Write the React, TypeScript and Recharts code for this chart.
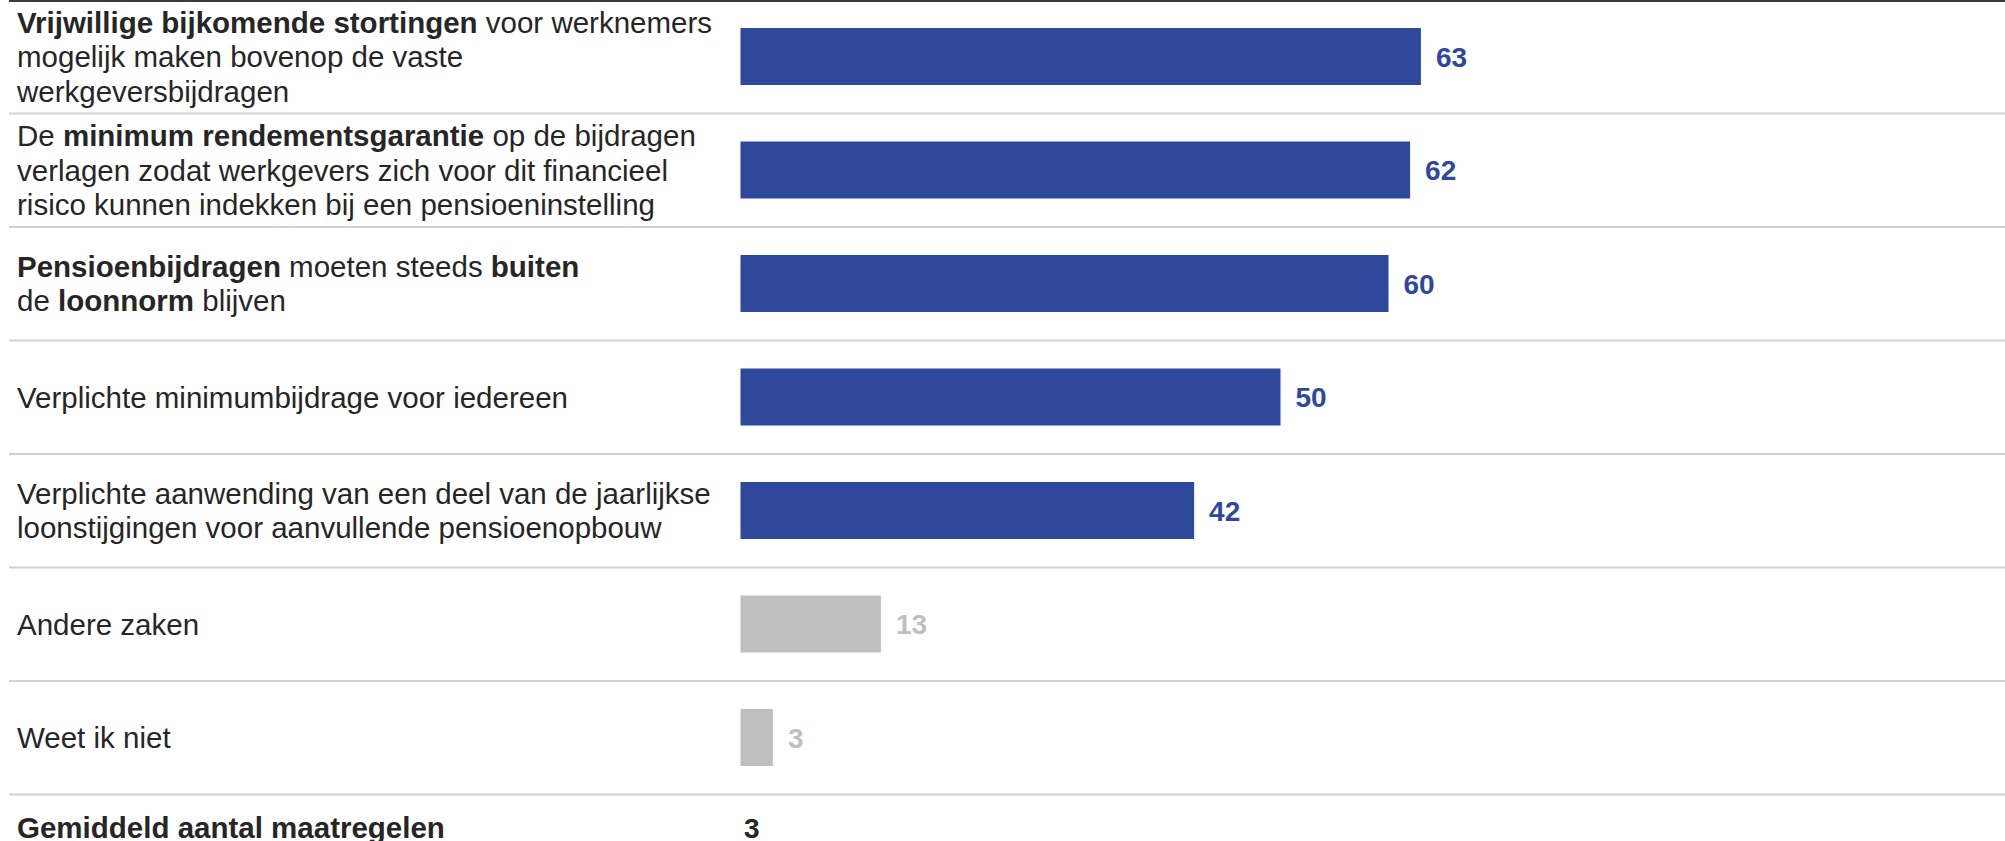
import React from "react";
import { BarChart, Bar, XAxis, YAxis, LabelList, Cell } from "recharts";

// category texts: **bold** parts, \n for line breaks as in the source chart
const categories = [
  "**Vrijwillige bijkomende stortingen** voor werknemers\nmogelijk maken bovenop de vaste\nwerkgeversbijdragen",
  "De **minimum rendementsgarantie** op de bijdragen\nverlagen zodat werkgevers zich voor dit financieel\nrisico kunnen indekken bij een pensioeninstelling",
  "**Pensioenbijdragen** moeten steeds **buiten**\nde **loonnorm** blijven",
  "Verplichte minimumbijdrage voor iedereen",
  "Verplichte aanwending van een deel van de jaarlijkse\nloonstijgingen voor aanvullende pensioenopbouw",
  "Andere zaken",
  "Weet ik niet",
];
const values = [63, 62, 60, 50, 42, 13, 3];
const mutedCategories = ["Andere zaken", "Weet ik niet"];
const summaryLabel = "Gemiddeld aantal maatregelen";
const summaryValue = 3;

const data = categories.map((name, i) => ({ name, value: values[i] }));

const WIDTH = 2005;
const HEIGHT = 841;
const ROW = 113.5;
const PLOT_LEFT = 740.5;
const PLOT_WIDTH = 1080;
const FONT = "'Liberation Sans', Arial, sans-serif";
const FONT_SIZE = 29.5;
const VALUE_SIZE = 28;
const LINE_HEIGHT = 34.5;
const BLUE = "#2e489c";
const GRAY = "#bfbfbf";
const TEXT = "#262626";

const isMuted = (name: string) => mutedCategories.includes(name);

const parseLine = (line: string) =>
  line
    .split("**")
    .map((text, i) => ({ text, bold: i % 2 === 1 }))
    .filter((s) => s.text.length > 0);

const CategoryTick = (props: any) => {
  const { y, payload } = props;
  const name = String(payload.value);
  const lines = name.split("\n");
  const first = categories.indexOf(name) === 0;
  const top = y - ((lines.length - 1) * LINE_HEIGHT) / 2;
  return (
    <g>
      {first && (
        <line x1={9} x2={WIDTH} y1={y - ROW / 2 + 1} y2={y - ROW / 2 + 1} stroke="#3c3c3c" strokeWidth={2} />
      )}
      <line x1={9} x2={WIDTH} y1={y + ROW / 2} y2={y + ROW / 2} stroke="#d2d2d2" strokeWidth={2} />
      <text fontFamily={FONT} fontSize={FONT_SIZE} fill={TEXT} style={{ whiteSpace: "pre" }}>
        {lines.map((line, i) => (
          <tspan key={i} x={17} y={top + i * LINE_HEIGHT + FONT_SIZE * 0.35}>
            {parseLine(line).map((seg, j) => (
              <tspan key={j} fontWeight={seg.bold ? 700 : 400}>
                {seg.text}
              </tspan>
            ))}
          </tspan>
        ))}
      </text>
    </g>
  );
};

const ValueLabel = (props: any) => {
  const { x, y, width, height, value, index } = props;
  const color = isMuted(categories[index]) ? GRAY : BLUE;
  return (
    <text
      x={Number(x) + Number(width) + 15}
      y={Number(y) + Number(height) / 2 + VALUE_SIZE * 0.36}
      fontFamily={FONT}
      fontSize={VALUE_SIZE}
      fontWeight={700}
      fill={color}
    >
      {value}
    </text>
  );
};

export default function App() {
  return (
    <div style={{ position: "absolute", left: 0, top: 0, width: WIDTH, height: HEIGHT, background: "#fff" }}>
      <BarChart
        width={WIDTH}
        height={HEIGHT}
        data={data}
        layout="vertical"
        margin={{ top: 0, right: WIDTH - PLOT_LEFT - PLOT_WIDTH, bottom: HEIGHT - 7 * ROW, left: 0 }}
      >
        <XAxis type="number" domain={[0, 100]} hide />
        <YAxis
          type="category"
          dataKey="name"
          width={PLOT_LEFT}
          axisLine={false}
          tickLine={false}
          tick={<CategoryTick />}
          interval={0}
        />
        <Bar dataKey="value" barSize={57} isAnimationActive={false}>
          {data.map((d) => (
            <Cell key={d.name} fill={isMuted(d.name) ? GRAY : BLUE} />
          ))}
          <LabelList dataKey="value" content={<ValueLabel />} />
        </Bar>
      </BarChart>
      <svg width={WIDTH} height={HEIGHT} style={{ position: "absolute", left: 0, top: 0, pointerEvents: "none" }}>
        <text x={17} y={838} fontFamily={FONT} fontSize={FONT_SIZE} fontWeight={700} fill={TEXT}>
          {summaryLabel}
        </text>
        <text x={744} y={838} fontFamily={FONT} fontSize={VALUE_SIZE} fontWeight={700} fill={TEXT}>
          {summaryValue}
        </text>
      </svg>
    </div>
  );
}
